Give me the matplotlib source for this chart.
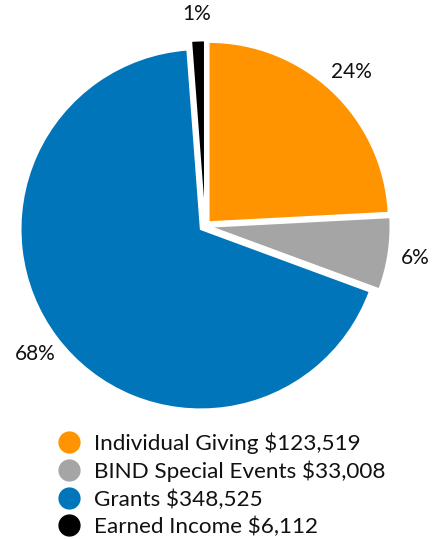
import numpy as np
import matplotlib
matplotlib.use("Agg")
import matplotlib.pyplot as plt
from matplotlib.lines import Line2D

plt.rcParams['font.family'] = ['Lato', 'DejaVu Sans']

# Revenue sources
categories = ['Individual Giving', 'BIND Special Events', 'Grants', 'Earned Income']
amounts = [123519, 33008, 348525, 6112]
colors = ['#FF9300', '#A5A5A5', '#0075BA', '#000000']

W, H = 445, 539
fig = plt.figure(figsize=(W / 100, H / 100), dpi=100)

# pie centre and radius in pixels
cx, cy, R = 205, 226, 180
half = 200
ax = fig.add_axes([(cx - half) / W, (H - cy - half) / H, 2 * half / W, 2 * half / H])
L = half / R
ax.set_aspect('equal')
ax.axis('off')

wedges, texts, autotexts = ax.pie(
    amounts, colors=colors, startangle=90, counterclock=False,
    explode=[0.03] * len(amounts), radius=1,
    autopct=lambda p: f"{p:.0f}%", pctdistance=1.15,
    wedgeprops=dict(edgecolor='white', linewidth=1.2),
    textprops=dict(fontsize=15, color='#111111'),
)
ax.set_xlim(-L, L)
ax.set_ylim(-L, L)

handles = [Line2D([], [], marker='o', linestyle='none', markersize=15,
                  markerfacecolor=c, markeredgecolor=c) for c in colors]
labels = [f"{c} ${a:,}" for c, a in zip(categories, amounts)]
fig.legend(handles, labels, loc='upper left', bbox_to_anchor=(44 / W, 1 - 421 / H),
           frameon=False, fontsize=16.2, handletextpad=0.5, labelspacing=0.31,
           borderpad=0, handlelength=1.2, labelcolor='#111111')

fig.savefig('out.png', dpi=100)
